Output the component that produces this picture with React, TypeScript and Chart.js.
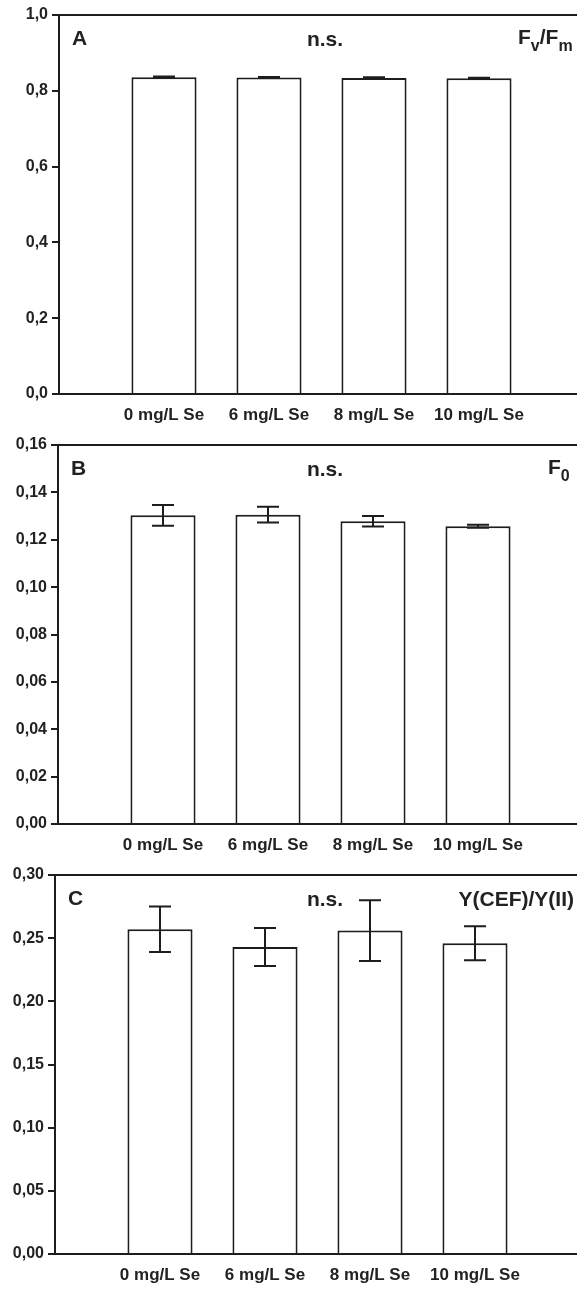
import React, { useEffect, useRef } from 'react';
import { Chart, registerables } from 'chart.js';

Chart.register(...registerables);

const categories = ['0 mg/L Se', '6 mg/L Se', '8 mg/L Se', '10 mg/L Se'];

const fvfmValues = [0.836, 0.835, 0.834, 0.833];
const fvfmErrors = [0.002, 0.0015, 0.0015, 0.0015];

const f0Values = [0.1303, 0.1306, 0.1278, 0.1257];
const f0Errors = [0.0044, 0.0033, 0.0022, 0.0006];

const cefValues = [0.257, 0.243, 0.256, 0.246];
const cefErrors = [0.018, 0.015, 0.024, 0.0135];

const yTicksA = [0, 0.2, 0.4, 0.6, 0.8, 1.0];
const yTicksB = [0, 0.02, 0.04, 0.06, 0.08, 0.1, 0.12, 0.14, 0.16];
const yTicksC = [0, 0.05, 0.1, 0.15, 0.2, 0.25, 0.3];

const LINE = '#1d1d1d';
const TEXT = '#222';
const FAMILY = '"Liberation Sans", Arial, Helvetica, sans-serif';

type TitleFn = (ctx: CanvasRenderingContext2D) => void;

interface PanelProps {
  values: number[];
  errors: number[];
  yTicks: number[];
  decimals: number;
  letter: string;
  axisLeft: number;
  drawTitle: TitleFn;
}

function drawSub(ctx: CanvasRenderingContext2D, x: number, y: number, parts: [string, boolean][]) {
  let cx = x;
  for (const [txt, sub] of parts) {
    ctx.font = sub ? `bold 16px ${FAMILY}` : `bold 21px ${FAMILY}`;
    ctx.fillText(txt, cx, sub ? y + 9 : y);
    cx += ctx.measureText(txt).width;
  }
}

function Panel({ values, errors, yTicks, decimals, letter, axisLeft, drawTitle }: PanelProps) {
  const ref = useRef<HTMLCanvasElement>(null);
  useEffect(() => {
    const canvas = ref.current!;
    const plugin = {
      id: 'panelDecor',
      afterDatasetsDraw(chart: any) {
        const ctx: CanvasRenderingContext2D = chart.ctx;
        const xs = chart.scales.x;
        const ys = chart.scales.y;
        ctx.save();
        ctx.strokeStyle = LINE;
        ctx.lineWidth = 2;
        values.forEach((v, i) => {
          const x = xs.getPixelForValue(i + 1);
          const yt = ys.getPixelForValue(v + errors[i]);
          const yb = ys.getPixelForValue(v - errors[i]);
          ctx.beginPath();
          ctx.moveTo(x, yt);
          ctx.lineTo(x, yb);
          ctx.moveTo(x - 11, yt);
          ctx.lineTo(x + 11, yt);
          ctx.moveTo(x - 11, yb);
          ctx.lineTo(x + 11, yb);
          ctx.stroke();
        });
        ctx.restore();
      },
      afterDraw(chart: any) {
        const ctx: CanvasRenderingContext2D = chart.ctx;
        const area = chart.chartArea;
        ctx.save();
        ctx.strokeStyle = LINE;
        ctx.lineWidth = 2;
        ctx.beginPath();
        ctx.moveTo(area.left - 1, area.top);
        ctx.lineTo(chart.width, area.top);
        ctx.stroke();
        ctx.fillStyle = TEXT;
        ctx.textBaseline = 'middle';
        ctx.textAlign = 'left';
        ctx.font = `bold 21px ${FAMILY}`;
        ctx.fillText(letter, area.left + 13, 39);
        ctx.textAlign = 'center';
        ctx.fillText('n.s.', 325, 40);
        ctx.textAlign = 'left';
        drawTitle(ctx);
        ctx.restore();
      },
    };

    const chart = new Chart(canvas, {
      type: 'bar',
      data: {
        datasets: [
          {
            data: values.map((v, i) => ({ x: i + 1, y: v })),
            backgroundColor: '#ffffff',
            borderColor: LINE,
            borderWidth: 2,
            categoryPercentage: 1,
            barPercentage: 0.62,
          } as any,
        ],
      },
      options: {
        animation: false,
        responsive: false,
        devicePixelRatio: 1,
        layout: { padding: { top: 15, left: 0, right: 0, bottom: 0 } },
        plugins: { legend: { display: false }, tooltip: { enabled: false } },
        scales: {
          x: {
            type: 'linear',
            offset: false,
            min: 0,
            max: 5,
            afterBuildTicks: (s: any) => {
              s.ticks = categories.map((_, i) => ({ value: i + 1 }));
            },
            afterFit: (s: any) => {
              s.height = 36;
            },
            grid: { display: false, drawTicks: false, offset: false },
            border: { display: true, color: LINE, width: 2 },
            ticks: {
              autoSkip: false,
              maxRotation: 0,
              minRotation: 0,
              padding: 11,
              color: TEXT,
              font: { family: FAMILY, size: 17, weight: 'bold' },
              callback: (v: any) => categories[Math.round(Number(v)) - 1] ?? '',
            },
          },
          y: {
            min: yTicks[0],
            max: yTicks[yTicks.length - 1],
            afterBuildTicks: (s: any) => {
              s.ticks = yTicks.map((t) => ({ value: t }));
            },
            afterFit: (s: any) => {
              s.width = axisLeft;
            },
            grid: {
              display: true,
              drawOnChartArea: false,
              drawTicks: true,
              tickLength: 7,
              color: LINE,
              lineWidth: 2,
            },
            border: { display: true, color: LINE, width: 2 },
            ticks: {
              padding: 4,
              color: TEXT,
              font: { family: FAMILY, size: 16, weight: 'bold' },
              callback: (v: any) => Number(v).toFixed(decimals).replace('.', ','),
            },
          },
        },
      } as any,
      plugins: [plugin],
    });
    return () => chart.destroy();
  }, []);
  return <canvas ref={ref} width={axisLeft + 525} height={430} style={{ display: 'block' }} />;
}

const titleA: TitleFn = (ctx) => {
  drawSub(ctx, 518, 38, [
    ['F', false],
    ['v', true],
    ['/F', false],
    ['m', true],
  ]);
};
const titleB: TitleFn = (ctx) => {
  drawSub(ctx, 548, 38, [
    ['F', false],
    ['0', true],
  ]);
};
const titleC: TitleFn = (ctx) => {
  ctx.font = `bold 21px ${FAMILY}`;
  ctx.textAlign = 'right';
  ctx.fillText('Y(CEF)/Y(II)', 574, 40);
};

export default function App() {
  return (
    <div
      style={{
        position: 'absolute',
        left: 0,
        top: 0,
        width: 577,
        height: 1289,
        overflow: 'hidden',
        background: '#fff',
      }}
    >
      <Panel values={fvfmValues} errors={fvfmErrors} yTicks={yTicksA} decimals={1} letter="A" axisLeft={59} drawTitle={titleA} />
      <Panel values={f0Values} errors={f0Errors} yTicks={yTicksB} decimals={2} letter="B" axisLeft={58} drawTitle={titleB} />
      <Panel values={cefValues} errors={cefErrors} yTicks={yTicksC} decimals={2} letter="C" axisLeft={55} drawTitle={titleC} />
    </div>
  );
}
